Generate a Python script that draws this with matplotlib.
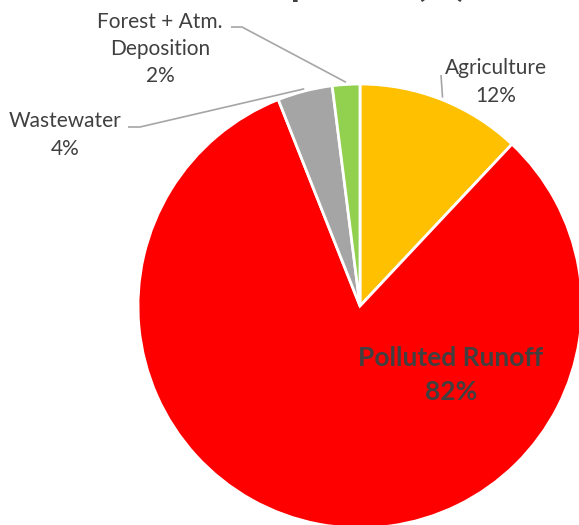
import matplotlib

matplotlib.use("Agg")
import matplotlib.pyplot as plt
import numpy as np

W, H = 579, 525

# share of total phosphorus by source (%), clockwise from 12 o'clock
sources = ["Agriculture", "Polluted Runoff", "Wastewater", "Forest + Atm.\nDeposition"]
shares = [12, 82, 4, 2]
colors = ["#FFC000", "#FF0000", "#A5A5A5", "#92D050"]

TEXT = "#404040"
LINE = "#A6A6A6"

plt.rcParams["font.family"] = ["Lato", "DejaVu Sans"]

fig = plt.figure(figsize=(W / 100, H / 100), dpi=100)
ax = fig.add_axes([0, 0, 1, 1])

# work in pixel units, y measured from the bottom
cx, cy, r = 360, H - 306, 222
wedges, _ = ax.pie(
    shares,
    colors=colors,
    startangle=90,
    counterclock=False,
    center=(cx, cy),
    radius=r,
    wedgeprops=dict(edgecolor="white", linewidth=2),
)
ax.set_xlim(0, W)
ax.set_ylim(0, H)
ax.set_aspect("equal")
ax.axis("off")

# title sits mostly above the top edge of the canvas
fig.text(0.5, 1 + 4 / H, "Total Phosphorus (%)", ha="center", va="baseline",
         fontsize=27, fontweight="bold", color=TEXT)


def edge_point(w):
    mid = np.deg2rad((w.theta1 + w.theta2) / 2)
    return cx + r * 1.01 * np.cos(mid), cy + r * 1.01 * np.sin(mid)


# outside labels: text centre, leader-line start points (pixels from top)
outside = {
    0: ((496, 82), [(441, 75)]),
    2: ((65, 135), [(128, 127), (140, 127)]),
    3: ((160, 49), [(231, 27), (242, 27)]),
}
for i, ((tx, ty), path) in outside.items():
    ax.text(tx, H - ty, f"{sources[i]}\n{shares[i]}%", ha="center", va="center",
            fontsize=15, color=TEXT, linespacing=1.46)
    xs = [p[0] for p in path]
    ys = [H - p[1] for p in path]
    ex, ey = edge_point(wedges[i])
    ax.plot(xs + [ex], ys + [ey], color=LINE, lw=1.2, solid_capstyle="butt")

ax.text(451, H - 375, f"{sources[1]}\n{shares[1]}%", ha="center", va="center",
        fontsize=19, fontweight="bold", color=TEXT, linespacing=1.45)

fig.savefig("out.png", dpi=100)
